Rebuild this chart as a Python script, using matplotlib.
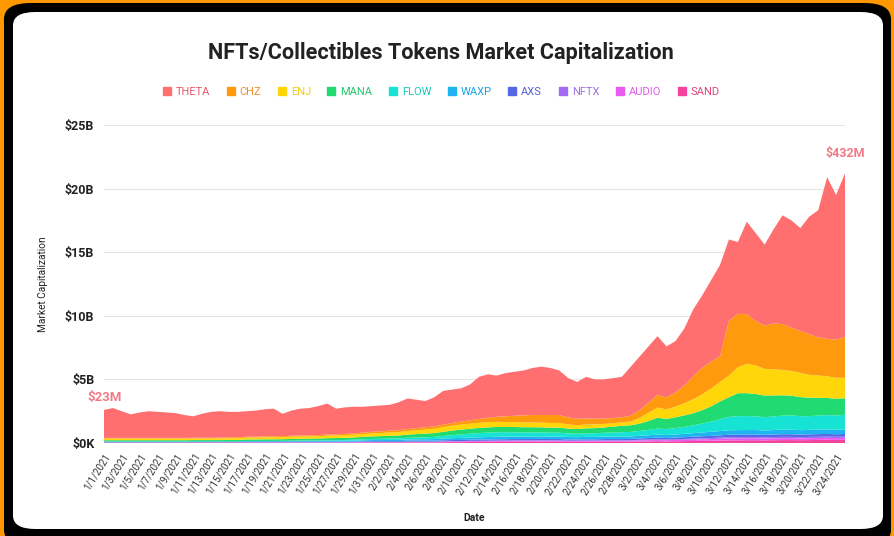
import matplotlib
matplotlib.use("Agg")
import matplotlib.pyplot as plt
from matplotlib.patches import FancyBboxPatch
from matplotlib.lines import Line2D
import numpy as np
import pandas as pd

# ---------------- data (billions USD, daily 2021-01-01 .. 2021-03-25) ----------------
dates = pd.date_range("2021-01-01", "2021-03-25", freq="D")

sand = [0.02,0.02,0.02,0.02,0.02,0.02,0.02,0.02,0.02,0.02,0.03,0.03,
        0.03,0.03,0.03,0.03,0.03,0.03,0.03,0.03,0.03,0.03,0.03,0.03,
        0.03,0.03,0.03,0.03,0.03,0.04,0.04,0.04,0.04,0.04,0.05,0.05,
        0.05,0.05,0.06,0.07,0.07,0.08,0.08,0.09,0.09,0.09,0.10,0.10,
        0.10,0.11,0.10,0.10,0.09,0.09,0.10,0.10,0.10,0.10,0.10,0.11,
        0.12,0.13,0.14,0.13,0.14,0.15,0.16,0.17,0.18,0.19,0.21,0.21,
        0.22,0.22,0.21,0.22,0.23,0.23,0.22,0.23,0.24,0.25,0.24,0.25]
audio = [0.02,0.02,0.02,0.02,0.02,0.02,0.02,0.02,0.02,0.02,0.02,0.02,
         0.02,0.02,0.02,0.02,0.02,0.02,0.02,0.02,0.02,0.02,0.02,0.02,
         0.02,0.02,0.02,0.02,0.03,0.03,0.03,0.03,0.03,0.03,0.04,0.04,
         0.04,0.04,0.05,0.05,0.05,0.06,0.06,0.06,0.06,0.07,0.07,0.07,
         0.07,0.07,0.07,0.07,0.06,0.06,0.06,0.06,0.07,0.07,0.07,0.07,
         0.08,0.09,0.09,0.09,0.10,0.10,0.11,0.12,0.13,0.14,0.15,0.15,
         0.15,0.15,0.14,0.15,0.15,0.15,0.14,0.15,0.15,0.15,0.15,0.15]
nftx = [0.00,0.00,0.00,0.00,0.00,0.00,0.00,0.00,0.00,0.00,0.00,0.00,
        0.00,0.00,0.00,0.00,0.01,0.01,0.01,0.01,0.01,0.01,0.01,0.01,
        0.01,0.01,0.01,0.01,0.01,0.01,0.02,0.02,0.02,0.02,0.02,0.02,
        0.02,0.02,0.02,0.03,0.03,0.03,0.03,0.03,0.04,0.04,0.04,0.04,
        0.04,0.04,0.04,0.04,0.04,0.04,0.04,0.04,0.04,0.04,0.04,0.04,
        0.05,0.05,0.06,0.06,0.06,0.07,0.07,0.08,0.08,0.09,0.10,0.10,
        0.10,0.10,0.10,0.10,0.10,0.10,0.10,0.10,0.10,0.10,0.10,0.10]
axs = [0.03,0.03,0.03,0.03,0.03,0.03,0.03,0.03,0.03,0.03,0.03,0.03,
       0.03,0.03,0.03,0.03,0.04,0.04,0.04,0.04,0.04,0.04,0.04,0.04,
       0.04,0.04,0.05,0.05,0.05,0.05,0.06,0.06,0.06,0.06,0.07,0.07,
       0.07,0.07,0.08,0.08,0.09,0.09,0.10,0.10,0.10,0.10,0.10,0.10,
       0.10,0.10,0.10,0.10,0.09,0.09,0.09,0.09,0.10,0.10,0.10,0.10,
       0.11,0.12,0.13,0.12,0.13,0.14,0.15,0.16,0.17,0.18,0.19,0.20,
       0.20,0.20,0.19,0.20,0.21,0.21,0.20,0.20,0.21,0.21,0.20,0.21]
waxp = [0.05,0.05,0.05,0.05,0.05,0.05,0.05,0.05,0.05,0.05,0.05,0.05,
        0.05,0.05,0.05,0.05,0.06,0.06,0.06,0.06,0.06,0.06,0.06,0.06,
        0.06,0.07,0.07,0.07,0.07,0.08,0.08,0.08,0.09,0.09,0.10,0.11,
        0.12,0.13,0.14,0.15,0.16,0.17,0.18,0.19,0.20,0.20,0.20,0.20,
        0.20,0.20,0.20,0.20,0.19,0.18,0.19,0.19,0.19,0.20,0.20,0.20,
        0.21,0.22,0.24,0.23,0.24,0.26,0.28,0.30,0.32,0.34,0.35,0.35,
        0.35,0.35,0.34,0.35,0.36,0.36,0.35,0.35,0.36,0.36,0.35,0.36]
flow = [0.00,0.00,0.00,0.00,0.00,0.00,0.00,0.00,0.00,0.00,0.00,0.00,
        0.00,0.00,0.00,0.00,0.00,0.00,0.00,0.00,0.01,0.02,0.03,0.03,
        0.04,0.05,0.05,0.06,0.07,0.08,0.09,0.10,0.11,0.12,0.13,0.14,
        0.15,0.17,0.20,0.24,0.27,0.30,0.33,0.35,0.35,0.34,0.33,0.32,
        0.32,0.31,0.30,0.30,0.28,0.27,0.28,0.29,0.30,0.32,0.34,0.35,
        0.38,0.42,0.48,0.46,0.50,0.55,0.62,0.70,0.80,0.92,1.05,1.10,
        1.10,1.08,1.05,1.07,1.10,1.12,1.10,1.08,1.10,1.12,1.12,1.15]
mana = [0.10,0.10,0.10,0.10,0.10,0.10,0.10,0.10,0.10,0.10,0.10,0.10,
        0.10,0.10,0.11,0.11,0.12,0.12,0.13,0.13,0.13,0.14,0.14,0.15,
        0.15,0.16,0.16,0.17,0.18,0.19,0.20,0.21,0.22,0.23,0.25,0.27,
        0.29,0.30,0.33,0.36,0.38,0.39,0.40,0.41,0.42,0.42,0.42,0.41,
        0.41,0.40,0.40,0.40,0.38,0.37,0.39,0.40,0.42,0.46,0.50,0.52,
        0.58,0.70,0.85,0.80,0.85,0.90,0.95,1.05,1.20,1.40,1.55,1.80,
        1.80,1.75,1.70,1.65,1.60,1.55,1.50,1.45,1.40,1.35,1.32,1.30]
enj = [0.13,0.13,0.13,0.13,0.13,0.13,0.13,0.13,0.13,0.13,0.13,0.13,
       0.13,0.14,0.14,0.15,0.15,0.16,0.16,0.17,0.17,0.18,0.18,0.19,
       0.19,0.20,0.20,0.21,0.22,0.23,0.24,0.25,0.26,0.27,0.28,0.30,
       0.32,0.34,0.36,0.38,0.40,0.40,0.41,0.41,0.40,0.39,0.38,0.38,
       0.38,0.37,0.37,0.37,0.33,0.30,0.30,0.30,0.28,0.27,0.27,0.30,
       0.45,0.65,0.80,0.75,0.85,0.95,1.10,1.25,1.40,1.55,1.70,2.05,
       2.30,2.25,2.10,2.05,2.00,1.95,1.90,1.80,1.75,1.70,1.65,1.60]
chz = [0.05,0.05,0.05,0.05,0.05,0.05,0.05,0.05,0.05,0.05,0.05,0.05,
       0.05,0.05,0.06,0.06,0.06,0.06,0.07,0.07,0.07,0.07,0.08,0.08,
       0.08,0.09,0.09,0.10,0.10,0.11,0.12,0.13,0.14,0.15,0.16,0.17,
       0.18,0.19,0.20,0.22,0.24,0.26,0.30,0.35,0.40,0.45,0.50,0.55,
       0.58,0.60,0.62,0.62,0.55,0.50,0.48,0.45,0.42,0.40,0.40,0.45,
       0.60,0.80,1.00,0.95,1.10,1.40,1.80,2.10,2.10,2.00,4.30,4.20,
       3.90,3.50,3.40,3.60,3.60,3.40,3.30,3.20,3.00,2.95,3.00,3.20]
theta = [2.20,2.35,2.10,1.85,2.00,2.10,2.05,2.00,1.95,1.80,1.69,1.89,
         2.04,2.08,2.01,2.00,2.01,2.05,2.13,2.17,1.76,1.98,2.11,2.14,
         2.28,2.43,2.02,2.08,2.09,2.03,2.02,2.03,2.03,2.19,2.40,2.23,
         2.06,2.29,2.66,2.62,2.61,2.82,3.31,3.41,3.24,3.40,3.46,3.53,
         3.70,3.80,3.70,3.50,3.09,2.90,3.27,3.08,3.08,3.14,3.18,3.86,
         4.22,4.42,4.61,4.01,4.03,4.48,5.26,5.67,6.42,7.19,6.40,5.64,
         7.28,6.90,6.37,7.41,8.55,8.43,8.09,9.24,9.99,12.71,11.37,12.88]

# legend order (top of stack first)
names = ["THETA", "CHZ", "ENJ", "MANA", "FLOW", "WAXP", "AXS", "NFTX", "AUDIO", "SAND"]
series = [theta, chz, enj, mana, flow, waxp, axs, nftx, audio, sand]
fill_colors = ["#FF6F6F", "#FF9A0E", "#FFD60A", "#1FDB72", "#17E3D4",
               "#1EB4F0", "#5566E6", "#A36BF2", "#E85AF0", "#F2449C"]
text_colors = ["#E55A6A", "#F0902A", "#F2CC10", "#25C870", "#18C9B8",
               "#1AA5E0", "#5560D8", "#A070E8", "#DD5EE8", "#E0457F"]

yticks = [0, 5, 10, 15, 20, 25]
ytick_labels = ["$0K", "$5B", "$10B", "$15B", "$20B", "$25B"]

# ---------------- figure ----------------
W, H = 895, 536
fig = plt.figure(figsize=(W / 100, H / 100), dpi=100, facecolor="#FF9800")

# black frame and white card (behind the axes)
fig.patches.append(FancyBboxPatch((4 / W, -10 / H), (W - 8) / W, (H + 7) / H,
                                  boxstyle="round,pad=0,rounding_size=0.03",
                                  transform=fig.transFigure, facecolor="black",
                                  edgecolor="none", zorder=-3))
fig.patches.append(FancyBboxPatch((13 / W, (H - 529) / H), (883 - 13) / W, (529 - 12) / H,
                                  boxstyle="round,pad=0,rounding_size=0.025",
                                  transform=fig.transFigure, facecolor="white",
                                  edgecolor="none", zorder=-2))

ax = fig.add_axes([104 / W, 1 - 443 / H, (845 - 104) / W, (443 - 125) / H])
ax.set_facecolor("none")
ax.set_zorder(1)

x = np.arange(len(dates))
ax.stackplot(x, *series[::-1], colors=fill_colors[::-1], linewidth=0, zorder=2)

ax.set_xlim(0, len(dates) - 1)
ax.set_ylim(0, 25)
ax.set_yticks(yticks)
ax.set_yticklabels(ytick_labels, fontsize=9, fontweight="bold", color="#222222",
                   family="Roboto")
ax.set_axisbelow(True)
ax.yaxis.grid(True, color="#E6E6E6", linewidth=0.8)
ax.tick_params(axis="y", length=0, pad=7)
for s in ax.spines.values():
    s.set_visible(False)

tick_idx = x[::2]
ax.set_xticks(tick_idx)
ax.set_xticklabels([f"{d.month}/{d.day}/{d.year}" for d in dates[::2]],
                   rotation=58, ha="right", rotation_mode="anchor",
                   fontsize=7, color="#333333", family="Roboto")
ax.tick_params(axis="x", length=0, pad=6)

ax.set_ylabel("Market Capitalization", fontsize=7.3, color="#222222", family="Roboto",
              labelpad=12)
ax.set_xlabel("Date", fontsize=7.5, fontweight="bold", color="#222222", family="Roboto",
              labelpad=12)

# annotations
ax.annotate("$23M", xy=(0, sum(s[0] for s in series)), xytext=(-12, 9),
            textcoords="offset points", va="center", fontsize=9.5, color="#EF7A86",
            family="Roboto", fontweight="bold")
ax.annotate("$432M", xy=(len(dates) - 1, sum(s[-1] for s in series)), xytext=(-14, 12),
            textcoords="offset points", fontsize=9, color="#EF7A86",
            family="Roboto", fontweight="bold")

# title
fig.text(441 / W, 1 - 53 / H, "NFTs/Collectibles Tokens Market Capitalization",
         ha="center", va="center", fontsize=15.6, fontweight="bold",
         color="#222222", family="Roboto")

# legend
handles = [Line2D([], [], marker="s", linestyle="none", markersize=6,
                  markerfacecolor=c, markeredgecolor=c) for c in fill_colors]
leg = fig.legend(handles, names, loc="center", bbox_to_anchor=(441 / W, 1 - 92 / H),
                 ncol=10, frameon=False, handlelength=0.8, handletextpad=0.4,
                 columnspacing=1.45, prop={"family": "Roboto", "size": 8})
for t, c in zip(leg.get_texts(), text_colors):
    t.set_color(c)

fig.savefig("out.png", dpi=100, facecolor=fig.get_facecolor())
